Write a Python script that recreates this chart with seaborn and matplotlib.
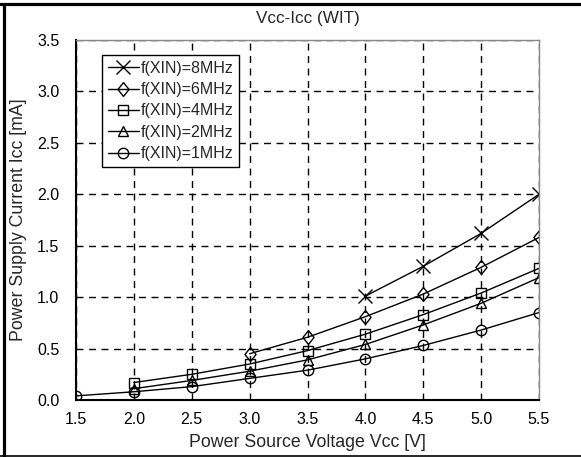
import matplotlib
matplotlib.use("Agg")
import matplotlib.pyplot as plt
from matplotlib.lines import Line2D
import pandas as pd
import seaborn as sns

# Supply current vs. supply voltage for several XIN clock frequencies (WIT mode)
vcc_1m = [1.5, 2.0, 2.5, 3.0, 3.5, 4.0, 4.5, 5.0, 5.5]
icc_1m = [0.04, 0.08, 0.13, 0.21, 0.29, 0.40, 0.53, 0.68, 0.85]

vcc_2m = [2.0, 2.5, 3.0, 3.5, 4.0, 4.5, 5.0, 5.5]
icc_2m = [0.11, 0.19, 0.28, 0.39, 0.54, 0.73, 0.94, 1.19]

vcc_4m = [2.0, 2.5, 3.0, 3.5, 4.0, 4.5, 5.0, 5.5]
icc_4m = [0.17, 0.25, 0.35, 0.48, 0.64, 0.83, 1.04, 1.28]

vcc_6m = [3.0, 3.5, 4.0, 4.5, 5.0, 5.5]
icc_6m = [0.45, 0.61, 0.81, 1.03, 1.29, 1.58]

vcc_8m = [4.0, 4.5, 5.0, 5.5]
icc_8m = [1.01, 1.30, 1.62, 2.00]

series_labels = ["f(XIN)=8MHz", "f(XIN)=6MHz", "f(XIN)=4MHz",
                 "f(XIN)=2MHz", "f(XIN)=1MHz"]

x_ticks = [1.5, 2.0, 2.5, 3.0, 3.5, 4.0, 4.5, 5.0, 5.5]
y_ticks = [0.0, 0.5, 1.0, 1.5, 2.0, 2.5, 3.0, 3.5]

series = [(vcc_8m, icc_8m), (vcc_6m, icc_6m), (vcc_4m, icc_4m),
          (vcc_2m, icc_2m), (vcc_1m, icc_1m)]

# slightly narrow diamond outline
narrow_diamond = [(0, 1), (0.8, 0), (0, -1), (-0.8, 0), (0, 1)]
marker_styles = [("x", 10), (narrow_diamond, 10), ("s", 6.5),
                 ("^", 7.5), ("o", 7.5)]

frames = []
for (vx, iy), lab in zip(series, series_labels):
    frames.append(pd.DataFrame({"Vcc": vx, "Icc": iy, "freq": lab}))
df = pd.concat(frames, ignore_index=True)

sns.set_style("white")
plt.rcParams["font.family"] = ["Liberation Sans", "DejaVu Sans"]

fig = plt.figure(figsize=(5.81, 4.57), dpi=100)
ax = fig.add_axes([76 / 581, 57 / 457, 463 / 581, 360 / 457])

for lab, (mk, ms) in zip(series_labels, marker_styles):
    sub = df[df["freq"] == lab]
    sns.lineplot(data=sub, x="Vcc", y="Icc", ax=ax, color="black",
                 linewidth=1.0, marker=mk, markersize=ms,
                 markerfacecolor="none", markeredgecolor="black",
                 markeredgewidth=1.0, label=lab)

ax.set_xlim(1.5, 5.5)
ax.set_ylim(0.0, 3.5)
ax.set_xticks(x_ticks)
ax.set_xticklabels([f"{v:.1f}" for v in x_ticks])
ax.set_yticks(y_ticks)
ax.set_yticklabels([f"{v:.1f}" for v in y_ticks])
ax.tick_params(axis="both", length=0, labelsize=11.5, colors="black")
ax.tick_params(axis="x", pad=9)
ax.tick_params(axis="y", pad=12)

ax.grid(True, color="black", linestyle=(0, (5, 4)), linewidth=1.0)
ax.set_axisbelow(True)

for side in ("left", "bottom"):
    ax.spines[side].set_color("black")
    ax.spines[side].set_linewidth(1.5)
for side in ("top", "right"):
    ax.spines[side].set_color("#888888")
    ax.spines[side].set_linewidth(1.0)

ax.set_xlabel("Power Source Voltage Vcc [V]", fontsize=12.8, labelpad=5)
ax.set_ylabel("Power Supply Current Icc [mA]", fontsize=12.8, labelpad=7)
ax.set_title("Vcc-Icc (WIT)", fontsize=12.3, pad=12)

leg = ax.legend(loc="upper left", bbox_to_anchor=(0.056, 0.958),
                fontsize=11.5, frameon=True, fancybox=False, shadow=False,
                handlelength=2.0, handletextpad=0.1, borderpad=0.35,
                labelspacing=0.4, borderaxespad=0.0)
frame = leg.get_frame()
frame.set_edgecolor("black")
frame.set_linewidth(1.0)
frame.set_alpha(1.0)

# Outer frame lines of the figure panel
fig.add_artist(Line2D([0.0, 1.0], [1 - 3.5 / 457, 1 - 3.5 / 457],
                      transform=fig.transFigure, color="black", linewidth=2.3))
fig.add_artist(Line2D([3.5 / 581, 3.5 / 581], [0.0, 1 - 3.5 / 457],
                      transform=fig.transFigure, color="black", linewidth=2.3))
fig.add_artist(Line2D([0.0, 1.0], [1.2 / 457, 1.2 / 457],
                      transform=fig.transFigure, color="black", linewidth=1.2))

fig.savefig("out.png", dpi=100)
